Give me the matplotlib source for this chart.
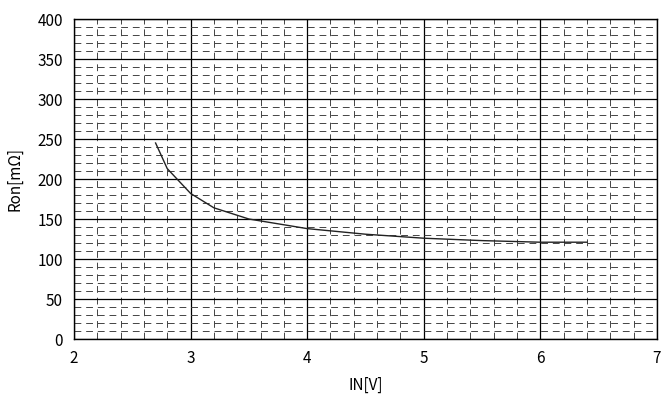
import matplotlib
matplotlib.use("Agg")
import matplotlib.pyplot as plt
from matplotlib.ticker import MultipleLocator

plt.rcParams["font.family"] = ["Noto Sans CJK JP", "DejaVu Sans"]

# Ron vs IN curve
in_v = [2.7, 2.8, 3.0, 3.2, 3.5, 4.0, 4.5, 5.0, 5.5, 6.0, 6.4]
ron_mohm = [245, 213, 182, 164, 150, 138, 131, 126, 123, 121, 121]

x_ticks = [2, 3, 4, 5, 6, 7]
y_ticks = [0, 50, 100, 150, 200, 250, 300, 350, 400]

fig = plt.figure(figsize=(6.64, 4.03), dpi=100)
ax = fig.add_axes([0.1114, 0.1588, 0.878, 0.794])

ax.plot(in_v, ron_mohm, color="#222222", linewidth=1.0, zorder=3)

ax.set_xlim(2, 7)
ax.set_ylim(0, 400)
ax.set_xticks(x_ticks)
ax.set_yticks(y_ticks)
ax.xaxis.set_minor_locator(MultipleLocator(0.2))
ax.yaxis.set_minor_locator(MultipleLocator(10))

# Grid: solid major, dashed minor
ax.grid(which="major", color="black", linewidth=0.9, linestyle="-")
ax.grid(which="minor", color="#444444", linewidth=0.7, linestyle=(0, (7, 5)))
ax.set_axisbelow(True)

ax.tick_params(which="both", length=0)
ax.tick_params(axis="both", labelsize=11, pad=8)
for s in ax.spines.values():
    s.set_color("black")
    s.set_linewidth(1.0)

ax.set_xlabel("IN[V]", fontsize=11, labelpad=7)
ax.set_ylabel("Ron[mΩ]", fontsize=11, labelpad=10)

plt.savefig("out.png", dpi=100, facecolor="white")
